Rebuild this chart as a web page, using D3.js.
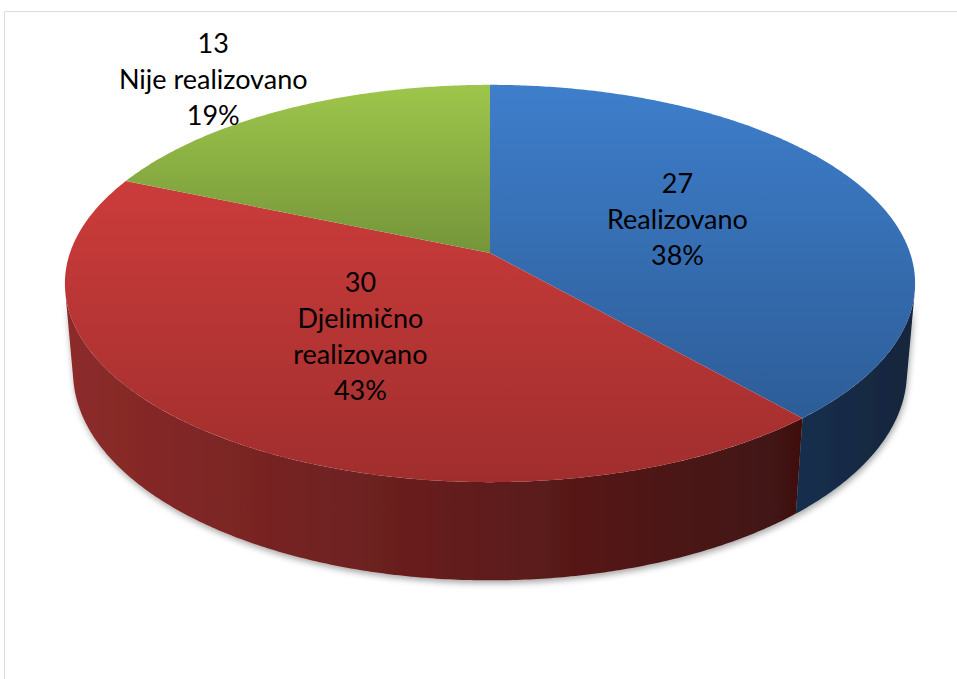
<!DOCTYPE html>
<html>
<head>
<meta charset="utf-8">
<script src="https://cdn.jsdelivr.net/npm/d3@7"></script>
<style>
  body { margin: 0; background: #fff; }
</style>
</head>
<body>
<div id="chart"></div>
<script>
// data
const categories = ["Realizovano", "Djelimično realizovano", "Nije realizovano"];
const categoryLines = [["Realizovano"], ["Djelimično", "realizovano"], ["Nije realizovano"]];
const values = [27, 30, 13];
const percentLabels = ["38%", "43%", "19%"];

const width = 957, height = 679;

// 3d view of the pie (perspective camera looking down at the disc)
const cx = 490, cy = 253;
const focal = 2428, dist = 5.78, tilt = 27.5 * Math.PI / 180;
const depth = 0.24;

function project(theta, r, z) {
    const X = r * Math.sin(theta), Y = r * Math.cos(theta);
    const up = Y * Math.sin(tilt) + z * Math.cos(tilt);
    const w = dist + Y * Math.cos(tilt) - z * Math.sin(tilt);
    return [cx + focal * X / w, cy - focal * up / w];
}

// side wall only faces the camera between these angles
const vis0 = Math.acos(-1 / (dist * Math.cos(tilt)));
const vis1 = 2 * Math.PI - vis0;

const topColors = [["#3e7ecb", "#2d5d98"], ["#cb3c3b", "#a02e2d"], ["#9ec64b", "#74953a"]];
const sideColors = [["#15304f", "#12253b"], ["#8d2b2a", "#3f1111"], ["#6d8c33", "#4d6524"]];

const svg = d3.select("#chart").append("svg")
    .attr("width", width)
    .attr("height", height);

const defs = svg.append("defs");

// soft shadow under the body
const shadow = defs.append("filter")
    .attr("id", "shadow")
    .attr("x", "-10%").attr("y", "-10%")
    .attr("width", "120%").attr("height", "130%");
shadow.append("feDropShadow")
    .attr("dx", 1).attr("dy", 3)
    .attr("stdDeviation", 3)
    .attr("flood-color", "#000")
    .attr("flood-opacity", 0.35);

topColors.forEach((c, i) => {
    const g = defs.append("linearGradient")
        .attr("id", "top" + i)
        .attr("x1", 0).attr("y1", 0).attr("x2", 0).attr("y2", 1);
    g.append("stop").attr("offset", "0%").attr("stop-color", c[0]);
    g.append("stop").attr("offset", "100%").attr("stop-color", c[1]);
});

const xLeft = project(vis1, 1, 0)[0], xRight = project(vis0, 1, 0)[0];
sideColors.forEach((c, i) => {
    const g = defs.append("linearGradient")
        .attr("id", "side" + i)
        .attr("gradientUnits", "userSpaceOnUse");
    if (i === 0) {
        g.attr("x1", 790).attr("x2", xRight).attr("y1", 0).attr("y2", 0);
    } else {
        g.attr("x1", xLeft).attr("x2", 800).attr("y1", 0).attr("y2", 0);
    }
    g.append("stop").attr("offset", "0%").attr("stop-color", c[0]);
    g.append("stop").attr("offset", "100%").attr("stop-color", c[1]);
});

// frame
svg.append("path")
    .attr("d", "M4.5," + height + "V11.5H" + width)
    .attr("fill", "none")
    .attr("stroke", "#d6deea")
    .attr("stroke-width", 1);

const pie = d3.pie().sort(null).value(d => d);
const arcs = pie(values);

const line = d3.line();
const step = Math.PI / 360;

function arcPoints(a, b, r, z) {
    const n = Math.max(2, Math.ceil(Math.abs(b - a) / step));
    return d3.range(n + 1).map(k => project(a + (b - a) * k / n, r, z));
}

function topPath(d) {
    const pts = [project(0, 0, 0)].concat(arcPoints(d.startAngle, d.endAngle, 1, 0));
    return line(pts) + "Z";
}

function sidePath(d) {
    const a = Math.max(d.startAngle, vis0), b = Math.min(d.endAngle, vis1);
    if (a >= b) return null;
    const pts = arcPoints(a, b, 1, 0).concat(arcPoints(b, a, 1, -depth));
    return line(pts) + "Z";
}

const body = svg.append("g");

body.append("g")
    .attr("filter", "url(#shadow)")
    .selectAll("path")
    .data(arcs.filter(d => sidePath(d)))
    .enter().append("path")
    .attr("d", sidePath)
    .attr("fill", d => "url(#side" + d.index + ")");

body.append("g")
    .selectAll("path")
    .data(arcs)
    .enter().append("path")
    .attr("d", topPath)
    .attr("fill", d => "url(#top" + d.index + ")");

// labels
const labelR = [0.5, 0.5, 1.27];
const labelShift = [[-4, 0], [2, 0], [-24, 3]];
const lineH = 36;

const labels = svg.append("g")
    .attr("font-family", "Lato, 'Open Sans', sans-serif")
    .attr("font-size", 27)
    .attr("fill", "#000")
    .attr("text-anchor", "middle")
    .selectAll("text")
    .data(arcs)
    .enter().append("text")
    .attr("transform", d => {
        const mid = (d.startAngle + d.endAngle) / 2;
        const p = project(mid, labelR[d.index], 0);
        const s = labelShift[d.index];
        return "translate(" + (p[0] + s[0]) + "," + (p[1] + s[1]) + ")";
    });

labels.each(function (d) {
    const rows = [String(values[d.index])].concat(categoryLines[d.index], [percentLabels[d.index]]);
    const t = d3.select(this);
    rows.forEach((r, k) => {
        t.append("tspan")
            .attr("x", 0)
            .attr("y", (k - (rows.length - 1) / 2) * lineH)
            .attr("dy", "0.35em")
            .text(r);
    });
});
</script>
</body>
</html>
